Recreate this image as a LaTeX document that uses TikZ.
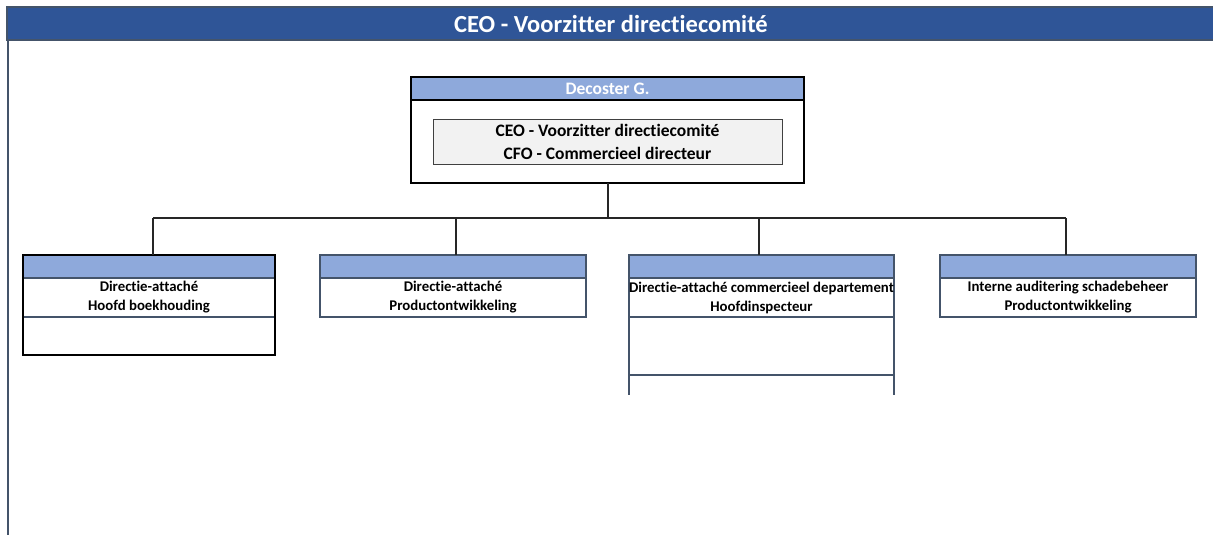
\documentclass[tikz,border=0pt]{standalone}
\usepackage{fontspec}
\setmainfont{Carlito}[Ligatures=NoCommon]
\usetikzlibrary{positioning}
\definecolor{barblue}{HTML}{2F5597}
\definecolor{slate}{HTML}{44546A}
\definecolor{bandblue}{HTML}{8EA9DB}
\definecolor{panel}{HTML}{F2F2F2}
\tikzset{
  titlebar/.style={fill=barblue,draw=slate,line width=2pt,minimum width=1208,minimum height=33,inner sep=0pt,outer sep=0pt,text=white,font=\bfseries\fontsize{24.5}{28}\selectfont},
  band/.style={fill=bandblue,draw=slate,line width=1.5pt,minimum height=23,inner sep=0pt,outer sep=0pt,anchor=north,text=white,font=\bfseries\fontsize{17.5}{20}\selectfont},
  role/.style={draw=slate,line width=1.5pt,minimum height=39,inner sep=0pt,outer sep=0pt,align=center,font=\bfseries\fontsize{14.8}{19}\selectfont},
  rolebox/.style={fill=panel,draw=black!75,line width=1pt,minimum width=349,minimum height=45,inner sep=0pt,outer sep=0pt,align=center,font=\bfseries\fontsize{17.5}{23}\selectfont},
  link/.style={draw=black!85,line width=2pt}
}
\begin{document}
\begin{tikzpicture}[x=1pt,y=-1pt]
\useasboundingbox (0,0) rectangle (1213,535);
\coordinate (foot) at (8,535);
\node[titlebar] (title) at (611,24) {CEO - Voorzitter directiecomité};
\draw[slate,line width=2pt] ([xshift=1pt]title.south west) -- ([xshift=1pt]title.south west |- foot);
% boss
\node[band,draw=black,minimum width=393] (bosshead) at (607.5,77) {Decoster G.};
\node[draw=black,line width=2pt,minimum width=393,minimum height=106,inner sep=0pt,outer sep=0pt,anchor=north] (boss) at (bosshead.north) {};
\node[rolebox] (bossrole) at (607.5,141.5) {CEO - Voorzitter directiecomité\\CFO - Commercieel directeur};
% children
\foreach \i/\cx/\w/\ta/\tb in {1/149/252/{Directie-attaché}/{Hoofd boekhouding},2/453/266/{Directie-attaché}/{Productontwikkeling},3/761.5/265/{Directie-attaché commercieel departement}/{Hoofdinspecteur},4/1068/256/{Interne auditering schadebeheer}/{Productontwikkeling}}{
  \node[band,minimum width=\w] (h\i) at (\cx,255) {};
  \node[role,minimum width=\w,below=0pt of h\i] (r\i) {\ta\\\tb};
}
\node[role,minimum width=252,minimum height=38,below=0pt of r1] (x1) {};
\draw[black,line width=2pt] (h1.north west) rectangle (x1.south east);
\node[role,minimum width=265,minimum height=58,below=0pt of r3] (x3) {};
\draw[slate,line width=1.5pt] (x3.south west) -- ++(0,20) (x3.south east) -- ++(0,20);
% connectors
\coordinate (bus) at (607.5,218);
\foreach \i/\d in {1/4,2/3,3/-2.5,4/-2}{\coordinate (d\i) at ([xshift=\d]h\i.north);}
\draw[link] (boss.south) -- (boss.south |- bus);
\draw[link] (d1 |- bus) -- (d4 |- bus);
\foreach \i in {1,2,3,4}{\draw[link] (d\i |- bus) -- (d\i);}
\end{tikzpicture}
\end{document}
